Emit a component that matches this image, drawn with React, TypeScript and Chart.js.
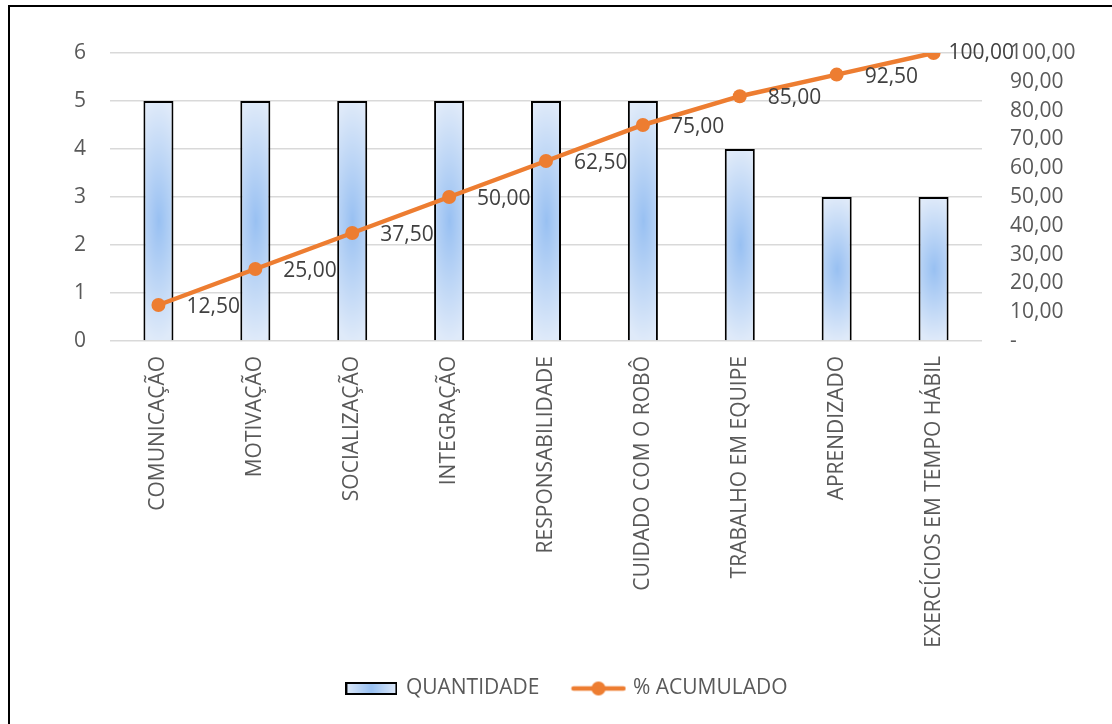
import { useEffect, useRef } from 'react';
import { Chart, registerables } from 'chart.js';

Chart.register(...registerables);

const categories = [
  'COMUNICAÇÃO',
  'MOTIVAÇÃO',
  'SOCIALIZAÇÃO',
  'INTEGRAÇÃO',
  'RESPONSABILIDADE',
  'CUIDADO COM O ROBÔ',
  'TRABALHO EM EQUIPE',
  'APRENDIZADO',
  'EXERCÍCIOS EM TEMPO HÁBIL',
];
const quantidade = [5, 5, 5, 5, 5, 5, 4, 3, 3];
const acumulado = [12.5, 25, 37.5, 50, 62.5, 75, 85, 92.5, 100];
const seriesNames = ['QUANTIDADE', '% ACUMULADO'];
const leftAxisRange = [0, 6, 1];
const rightAxisRange = [0, 100, 10];

const FONT = '"Open Sans", "Noto Sans", sans-serif';
const FONT_SIZE = 21;
const ORANGE = '#ED7D31';
const EDGE = [223, 234, 249];
const CENTER = [152, 192, 242];
const BAR_FRACTION = 0.31;

const fmt = (v: number) => v.toFixed(2).replace('.', ',');

function lerpColor(t: number) {
  return [0, 1, 2].map((k) => Math.round(CENTER[k] + (EDGE[k] - CENTER[k]) * t));
}

function pathGradientCanvas(w: number, h: number) {
  const c = document.createElement('canvas');
  c.width = Math.max(1, Math.ceil(w));
  c.height = Math.max(1, Math.ceil(h));
  const g = c.getContext('2d')!;
  const img = g.createImageData(c.width, c.height);
  const hw = c.width / 2;
  const hh = c.height / 2;
  for (let j = 0; j < c.height; j++) {
    for (let i = 0; i < c.width; i++) {
      const dx = Math.abs(i + 0.5 - hw) / hw;
      const dy = Math.abs(j + 0.5 - hh) / hh;
      const t = Math.min(1, Math.sqrt((dx * 0.5) * (dx * 0.5) + dy * dy));
      const col = lerpColor(t);
      const p = (j * c.width + i) * 4;
      img.data[p] = col[0];
      img.data[p + 1] = col[1];
      img.data[p + 2] = col[2];
      img.data[p + 3] = 255;
    }
  }
  g.putImageData(img, 0, 0);
  return c;
}

function barFill(ctx: any) {
  const chart = ctx.chart;
  const xs = chart.scales?.x;
  const ys = chart.scales?.y;
  const fallback = `rgb(${CENTER.join(',')})`;
  if (!xs || !ys || ctx.type !== 'data' || !chart.chartArea) return fallback;
  const cx = xs.getPixelForValue(ctx.dataIndex);
  const w = (xs.width / categories.length) * BAR_FRACTION;
  const top = ys.getPixelForValue(ctx.raw);
  const base = ys.getPixelForValue(0);
  if (!isFinite(cx) || !isFinite(top) || base - top < 1) return fallback;
  const c = pathGradientCanvas(w, base - top);
  const pat = chart.ctx.createPattern(c, 'no-repeat');
  if (!pat) return fallback;
  pat.setTransform(new DOMMatrix([1, 0, 0, 1, cx - w / 2, top]));
  return pat;
}

function legendBarImage() {
  const w = 52;
  const h = 13;
  const c = document.createElement('canvas');
  c.width = w;
  c.height = h;
  const g = c.getContext('2d')!;
  const grad = g.createLinearGradient(0, 0, w, 0);
  grad.addColorStop(0, `rgb(${EDGE.join(',')})`);
  grad.addColorStop(0.5, `rgb(${CENTER.join(',')})`);
  grad.addColorStop(1, `rgb(${EDGE.join(',')})`);
  g.fillStyle = grad;
  g.fillRect(0, 0, w, h);
  g.strokeStyle = '#000';
  g.lineWidth = 2;
  g.strokeRect(1, 1, w - 2, h - 2);
  return c;
}

function legendLineImage() {
  const w = 56;
  const h = 16;
  const c = document.createElement('canvas');
  c.width = w;
  c.height = h;
  const g = c.getContext('2d')!;
  g.strokeStyle = ORANGE;
  g.lineWidth = 4.5;
  g.lineCap = 'round';
  g.beginPath();
  g.moveTo(3, h / 2);
  g.lineTo(w - 3, h / 2);
  g.stroke();
  g.fillStyle = ORANGE;
  g.beginPath();
  g.arc(w / 2, h / 2, 7, 0, Math.PI * 2);
  g.fill();
  return c;
}

const dataLabelPlugin = {
  id: 'lineLabels',
  afterDatasetsDraw(chart: any) {
    const meta = chart.getDatasetMeta(1);
    const ctx = chart.ctx;
    ctx.save();
    ctx.font = `${FONT_SIZE}px ${FONT}`;
    ctx.fillStyle = '#404040';
    ctx.textAlign = 'left';
    ctx.textBaseline = 'middle';
    const last = meta.data.length - 1;
    meta.data.forEach((pt: any, i: number) => {
      const v = chart.data.datasets[1].data[i];
      const dx = i === last ? 15 : 28;
      const dy = i === last ? 0 : 2;
      ctx.fillText(fmt(v), pt.x + dx, pt.y + dy);
    });
    ctx.restore();
  },
};

// let the rotated category labels run below the x-axis box without clipping
const unclipLabelsPlugin = {
  id: 'unclipLabels',
  beforeDraw(chart: any) {
    const xs = chart.scales?.x;
    if (xs) xs._computeLabelArea = () => undefined;
  },
};

export default function App() {
  const ref = useRef<HTMLCanvasElement>(null);

  useEffect(() => {
    if (!ref.current) return;
    const barImg = legendBarImage();
    const lineImg = legendLineImage();
    const chart = new Chart(ref.current, {
      data: {
        labels: categories,
        datasets: [
          {
            type: 'bar',
            label: seriesNames[0],
            data: quantidade,
            yAxisID: 'y',
            backgroundColor: barFill,
            borderColor: '#000000',
            borderWidth: 2,
            barPercentage: BAR_FRACTION,
            categoryPercentage: 1,
            order: 2,
          },
          {
            type: 'line',
            label: seriesNames[1],
            data: acumulado,
            yAxisID: 'y1',
            borderColor: ORANGE,
            backgroundColor: ORANGE,
            borderWidth: 4.5,
            pointRadius: 7,
            pointBorderWidth: 0,
            pointBackgroundColor: ORANGE,
            tension: 0,
            order: 1,
          },
        ],
      } as any,
      options: {
        responsive: false,
        animation: false,
        devicePixelRatio: 1,
        layout: { padding: { top: 46, left: 13, right: 0, bottom: 15 } },
        plugins: {
          tooltip: { enabled: false },
          legend: {
            position: 'bottom',
            labels: {
              usePointStyle: true,
              pointStyleWidth: 48,
              padding: 35,
              color: '#595959',
              font: { family: FONT, size: FONT_SIZE },
              generateLabels: () => [
                {
                  text: seriesNames[0],
                  pointStyle: barImg,
                  datasetIndex: 0,
                  fillStyle: 'transparent',
                  strokeStyle: 'transparent',
                  lineWidth: 0,
                  fontColor: '#595959',
                  hidden: false,
                },
                {
                  text: seriesNames[1],
                  pointStyle: lineImg,
                  datasetIndex: 1,
                  fillStyle: 'transparent',
                  strokeStyle: 'transparent',
                  lineWidth: 0,
                  fontColor: '#595959',
                  hidden: false,
                },
              ],
            },
          },
        },
        scales: {
          x: {
            type: 'category',
            offset: true,
            grid: { display: false, drawTicks: false },
            border: { display: false },
            ticks: {
              autoSkip: false,
              minRotation: 90,
              maxRotation: 90,
              padding: 15,
              color: '#595959',
              font: { family: FONT, size: FONT_SIZE },
            },
            afterFit: (s: any) => {
              s.height = 302;
            },
          },
          y: {
            type: 'linear',
            position: 'left',
            min: leftAxisRange[0],
            max: leftAxisRange[1],
            ticks: {
              stepSize: leftAxisRange[2],
              padding: 24,
              color: '#595959',
              font: { family: FONT, size: FONT_SIZE },
            },
            grid: { color: '#d9d9d9', lineWidth: 1.5, drawTicks: false },
            border: { display: false },
            afterFit: (s: any) => {
              s.width = 87;
            },
          },
          y1: {
            type: 'linear',
            position: 'right',
            min: rightAxisRange[0],
            max: rightAxisRange[1],
            ticks: {
              stepSize: rightAxisRange[2],
              padding: 28,
              color: '#595959',
              font: { family: FONT, size: FONT_SIZE },
              callback: (v: any) => (Number(v) === 0 ? '-' : fmt(Number(v))),
            },
            grid: { display: false, drawTicks: false },
            border: { display: false },
            afterFit: (s: any) => {
              s.width = 130;
            },
          },
        },
      } as any,
      plugins: [dataLabelPlugin, unclipLabelsPlugin],
    });
    return () => chart.destroy();
  }, []);

  return (
    <div
      style={{
        position: 'absolute',
        left: 0,
        top: 0,
        width: 1112,
        height: 724,
        overflow: 'hidden',
        background: '#ffffff',
      }}
    >
      <div
        style={{
          position: 'absolute',
          left: 8,
          top: 5,
          width: 1200,
          height: 800,
          borderTop: '2px solid #000',
          borderLeft: '2px solid #000',
        }}
      />
      <canvas
        ref={ref}
        width={1102}
        height={717}
        style={{ position: 'absolute', left: 10, top: 7, width: 1102, height: 717 }}
      />
    </div>
  );
}
